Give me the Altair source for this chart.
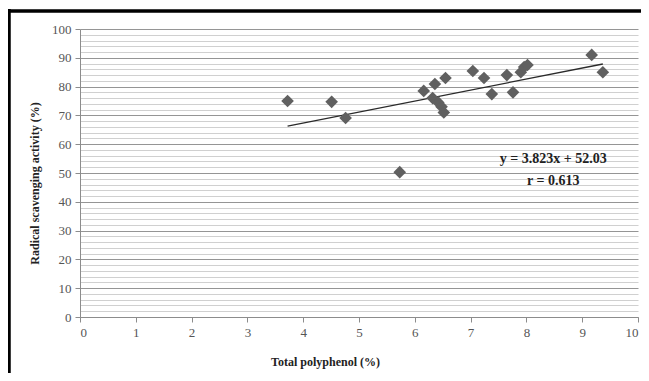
import altair as alt
import pandas as pd

# Data
polyphenol = [3.72, 4.51, 4.76, 5.73, 6.16, 6.36, 6.55, 6.32, 6.42, 6.48, 6.52,
              7.04, 7.24, 7.38, 7.65, 7.76, 7.90, 7.96, 8.02, 9.17, 9.37]
scavenging = [75.0, 74.7, 69.1, 50.3, 78.5, 80.9, 83.0, 76.0, 74.5, 73.0, 71.0,
              85.4, 83.0, 77.4, 84.0, 78.0, 85.0, 86.8, 87.5, 91.0, 85.0]

slope = 3.823
intercept = 52.03
eq_labels = ["y = 3.823x + 52.03", "r = 0.613"]
eq_x = [8.48, 8.48]
eq_y = [54.9, 47.2]

x_ticks = list(range(0, 11))
y_ticks = list(range(0, 101, 2))

df = pd.DataFrame({"x": polyphenol, "y": scavenging})
trend = pd.DataFrame({"x": [min(polyphenol), max(polyphenol)]})
notes = pd.DataFrame({"x": eq_x, "y": eq_y, "label": eq_labels})

FONT = "Liberation Serif"

xscale = alt.Scale(domain=[0, 10], nice=False)
yscale = alt.Scale(domain=[0, 100], nice=False)

x_axis = alt.Axis(
    values=x_ticks, tickCount=len(x_ticks) + 5, format="d", grid=False,
    title="Total polyphenol (%)",
    domainColor="#8c8c8c", tickColor="#8c8c8c", tickSize=5, labelOverlap=False,
    labelFont=FONT, labelFontSize=13, labelColor="#555555", labelPadding=4,
    titleFont=FONT, titleFontSize=12, titleFontWeight="bold", titleColor="#222222",
    titleX=245, titleY=44, titleBaseline="middle", titleAnchor="start", titleAlign="center",
)
y_axis = alt.Axis(
    values=y_ticks, tickCount=len(y_ticks) + 5, format="d", labelOverlap=False,
    title="Radical scavenging activity (%)",
    labelExpr="datum.value % 10 === 0 ? datum.label : ''",
    grid=True,
    gridColor={"condition": {"test": "datum.value % 10 === 0", "value": "#959595"}, "value": "#d0d0d0"},
    gridWidth=1.2,
    tickOpacity={"condition": {"test": "datum.value % 10 === 0", "value": 1}, "value": 0},
    domainColor="#8c8c8c", tickColor="#8c8c8c", tickSize=5,
    labelFont=FONT, labelFontSize=13, labelColor="#555555", labelPadding=4,
    titleFont=FONT, titleFontSize=12, titleFontWeight="bold", titleColor="#222222",
    titleX=-46, titleY=154, titleBaseline="middle", titleAngle=270, titleAlign="center",
)

points = alt.Chart(df).mark_point(
    shape="diamond", filled=True, color="#606060", opacity=1, size=160
).encode(
    x=alt.X("x:Q", scale=xscale, axis=x_axis),
    y=alt.Y("y:Q", scale=yscale, axis=y_axis),
)

line = alt.Chart(trend).transform_calculate(
    y=f"{slope} * datum.x + {intercept}"
).mark_line(color="#2a2a2a", strokeWidth=1.3).encode(
    x=alt.X("x:Q", scale=xscale),
    y=alt.Y("y:Q", scale=yscale),
)

text = alt.Chart(notes).mark_text(
    font=FONT, fontSize=14, fontWeight="bold", color="#222222", align="center", baseline="middle"
).encode(
    x=alt.X("x:Q", scale=xscale),
    y=alt.Y("y:Q", scale=yscale),
    text="label:N",
)

frame_top = alt.Chart(trend).mark_rule(color="black", strokeWidth=3).encode(
    x=alt.value(-80), x2=alt.value(620), y=alt.value(-18)
)
frame_left = alt.Chart(trend).mark_rule(color="black", strokeWidth=3).encode(
    x=alt.value(-71), y=alt.value(-20), y2=alt.value(360)
)

chart = alt.layer(line, points, text, frame_top, frame_left).properties(
    width=558, height=288,
    autosize=alt.AutoSizeParams(type="none"),
    padding={"left": 72, "top": 21, "right": 3, "bottom": 56},
    background="white",
).configure_view(stroke=None)

chart.save("out.html", embed_options={"renderer": "svg", "actions": False})
